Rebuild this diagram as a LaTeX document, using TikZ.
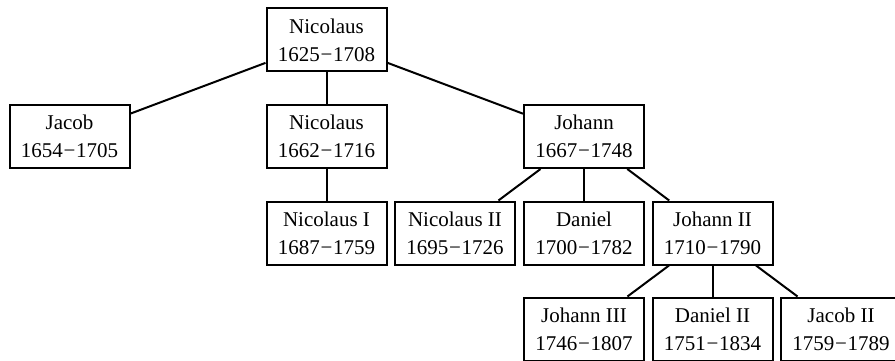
\documentclass[tikz,border=0pt]{standalone}
\usepackage{fontspec}
\setmainfont{Liberation Serif}
\newcommand{\yr}[2]{#1\kern0.8pt−\kern0.8pt#2}
\begin{document}
\begin{tikzpicture}[x=1pt,y=-1pt,
  person/.style={draw,line width=2pt,minimum width=120pt,minimum height=63pt,inner sep=0pt,align=center,font=\fontsize{21}{28}\selectfont},
  link/.style={line width=2pt}]
\useasboundingbox (0,0) rectangle (895,361);
\clip (0,0) rectangle (895,361);
\node[person] (n0) at (326.5,40) {Nicolaus\\\yr{1625}{1708}};
\node[person] (ja) at (69.5,136.5) {Jacob\\\yr{1654}{1705}};
\node[person] (n1) at (326.5,136.5) {Nicolaus\\\yr{1662}{1716}};
\node[person] (jo) at (584,136.5) {Johann\\\yr{1667}{1748}};
\node[person] (nI) at (326.5,233) {Nicolaus I\\\yr{1687}{1759}};
\node[person] (nII) at (455,233) {Nicolaus II\\\yr{1695}{1726}};
\node[person] (da) at (584,233) {Daniel\\\yr{1700}{1782}};
\node[person] (joII) at (712.5,233) {Johann II\\\yr{1710}{1790}};
\node[person] (joIII) at (584,329) {Johann III\\\yr{1746}{1807}};
\node[person] (daII) at (712.5,329) {Daniel II\\\yr{1751}{1834}};
\node[person] (jaII) at (841,329) {Jacob II\\\yr{1759}{1789}};
\draw[link] (n0) -- (ja);
\draw[link] (n0) -- (n1);
\draw[link] (n0) -- (jo);
\draw[link] (n1) -- (nI);
\draw[link] (jo) -- (nII);
\draw[link] (jo) -- (da);
\draw[link] (jo) -- (joII);
\draw[link] (joII) -- (joIII);
\draw[link] (joII) -- (daII);
\draw[link] (joII) -- (jaII);
\end{tikzpicture}
\end{document}
